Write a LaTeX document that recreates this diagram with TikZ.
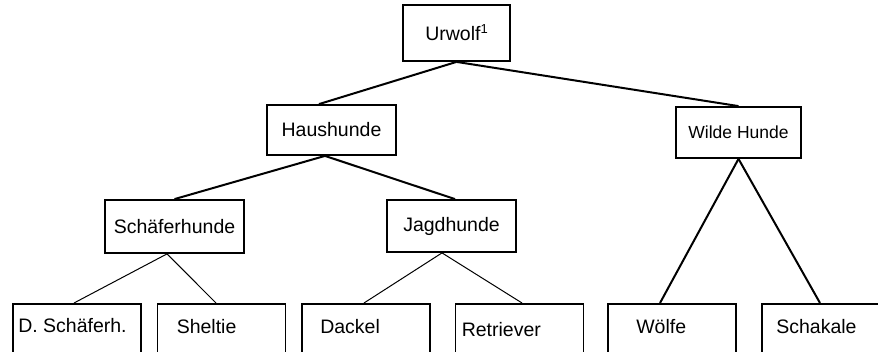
\documentclass[tikz,border=0pt]{standalone}
\usepackage{fontspec}
\setmainfont{Liberation Sans}
\usetikzlibrary{positioning}
\usetikzlibrary{calc}

\tikzset{
  box/.style={draw=black,line width=1.8pt,inner sep=0pt,align=center,font=\fontsize{19.5}{22}\selectfont},
  leaf/.style={box,minimum width=128pt,minimum height=62pt,anchor=north},
  leaflabel/.style={anchor=base west,inner sep=0pt,font=\fontsize{19.5}{22}\selectfont},
  thickline/.style={line width=2pt},
  thinline/.style={line width=1pt},
}

\begin{document}
\begin{tikzpicture}[x=1pt,y=-1pt]

\useasboundingbox (0,0) rectangle (878,352);
\clip (0,0) rectangle (878,352);

%TOP
\node[box,minimum width=107pt,minimum height=56pt](urwolf)at(456.5,33){Urwolf\raisebox{7pt}{\fontsize{13}{13}\selectfont 1}};

%MIDDLE
\node[box,minimum width=129pt,minimum height=50pt](haus)at(331.5,130){Haushunde};
\node[box,minimum width=125pt,minimum height=51pt,font=\fontsize{17.5}{20}\selectfont](wild)at(738.5,132.5){Wilde Hunde};
\node[box,minimum width=139pt,minimum height=53pt](schaef)at(174.5,226.5){Schäferhunde};
\node[box,minimum width=129pt,minimum height=52pt](jagd)at(451.5,226){Jagdhunde};

%LEAVES
\node[leaf](dsch)at(77,303){};
\node[leaflabel](dsch-label)at([shift={(6,30)}]dsch.north west){D. Schäferh.};
\node[leaf](shelt)at(221.5,303){};
\node[leaflabel](shelt-label)at([shift={(20,31)}]shelt.north west){Sheltie};
\node[leaf](dack)at(366,303){};
\node[leaflabel](dack-label)at([shift={(19,31)}]dack.north west){Dackel};
\node[leaf](retr)at(519.5,303){};
\node[leaflabel](retr-label)at([shift={(7,34)}]retr.north west){Retriever};
\node[leaf](woelf)at(672,303){};
\node[leaflabel](woelf-label)at([shift={(29,31)}]woelf.north west){Wölfe};
\node[leaf](schak)at(826,303){};
\node[leaflabel](schak-label)at([shift={(15,31)}]schak.north west){Schakale};

%LINES
\draw[thickline](urwolf.south)--([xshift=-12.5pt]haus.north);
\draw[thickline](urwolf.south)--(wild.north);
\draw[thickline]([xshift=-6.5pt]haus.south)--(schaef.north);
\draw[thickline]([xshift=-6.5pt]haus.south)--([xshift=3.5pt]jagd.north);
\draw[thinline]([xshift=-7.5pt]schaef.south)--([xshift=-3pt]dsch.north);
\draw[thinline]([xshift=-7.5pt]schaef.south)--([xshift=-5.5pt]shelt.north);
\draw[thinline]([xshift=-9.5pt]jagd.south)--([xshift=-2pt]dack.north);
\draw[thinline]([xshift=-9.5pt]jagd.south)--([xshift=2.5pt]retr.north);
\draw[thickline](wild.south)--([xshift=-12pt]woelf.north);
\draw[thickline](wild.south)--([xshift=-6pt]schak.north);

\end{tikzpicture}
\end{document}
